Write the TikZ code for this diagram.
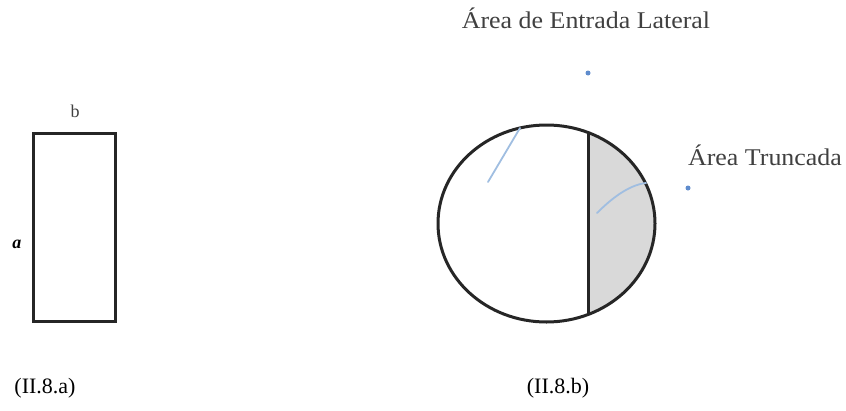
\documentclass[tikz,border=0pt]{standalone}
\usepackage{fontspec}
\setmainfont{Liberation Serif}
\begin{document}
\begin{tikzpicture}[x=1pt,y=-1pt,
  shapeline/.style={line width=3pt,draw=black!85},
  leader/.style={line width=1.8pt,draw={rgb,255:red,160;green,190;blue,225},line cap=round},
  tipdot/.style={fill={rgb,255:red,95;green,140;blue,205}},
  lbl/.style={inner sep=0pt,text=black!75,font=\fontsize{24}{26}\selectfont,xscale=1.08},
  figcap/.style={inner sep=0pt,font=\fontsize{22}{24}\selectfont}]
\useasboundingbox (0,0) rectangle (846,410);
% left rectangle
\draw[shapeline] (33,133) rectangle (115,321);
\node[inner sep=0pt,text=black!75,font=\fontsize{18}{19}\selectfont] (lb) at (75,111) {b};
\node[inner sep=0pt,font=\bfseries\itshape\fontsize{18}{19}\selectfont] (la) at (17,244) {a};
% ellipse with truncated area
\begin{scope}
\clip (588,0) rectangle (700,400);
\fill[black!15] (546.5,223.5) ellipse [x radius=108.5, y radius=98.5];
\end{scope}
\draw[shapeline] (546.5,223.5) ellipse [x radius=108.5, y radius=98.5];
\coordinate (ct) at (588,132.5);
\coordinate (cb) at (588,314.5);
\draw[shapeline] (ct) -- (cb);
% leaders
\coordinate (l1a) at (520,128);
\coordinate (l1b) at (488,182);
\draw[leader] (l1a) -- (l1b);
\coordinate (l2a) at (646,183);
\coordinate (l2b) at (597,213);
\draw[leader] (l2a) .. controls (628,185) and (610,200) .. (l2b);
\coordinate (d1) at (588,73);
\coordinate (d2) at (688,188);
\fill[tipdot] (d1) circle (2.5pt);
\fill[tipdot] (d2) circle (2.5pt);
% labels
\node[lbl] (t1) at (586,18) {Área de Entrada Lateral};
\node[lbl] (t2) at (765,155) {Área Truncada};
\node[figcap] (c1) at (45,388) {(II.8.a)};
\node[figcap] (c2) at (558,388) {(II.8.b)};
\end{tikzpicture}
\end{document}
